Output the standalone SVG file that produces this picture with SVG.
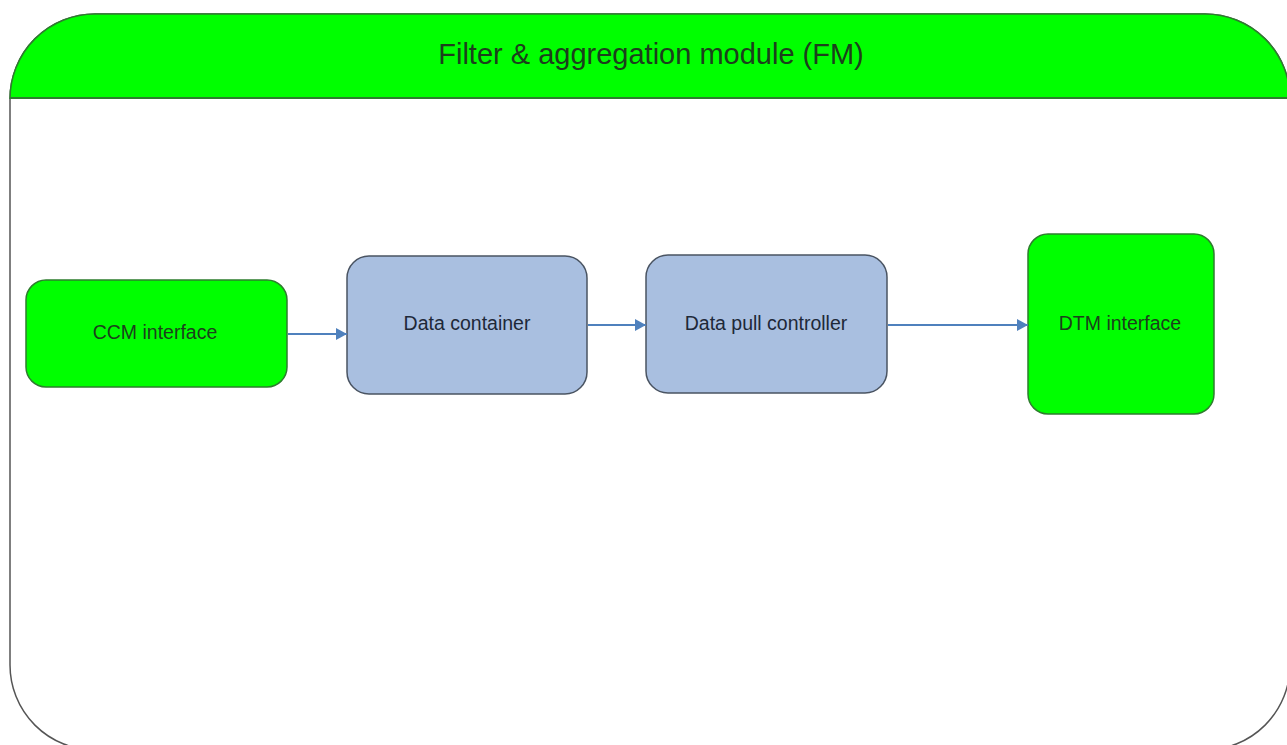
<svg xmlns="http://www.w3.org/2000/svg" width="1287" height="745" viewBox="0 0 1287 745">
<defs>
<style>
.green{fill:#00ff00;stroke:#2e7d2e;stroke-width:1.5}
.blue{fill:#a9bfe0;stroke:#4a5462;stroke-width:1.5}
.tg{font-family:"Liberation Sans",Arial,sans-serif;font-size:19.5px;fill:#1c3f1c;text-anchor:middle}
.tb{font-family:"Liberation Sans",Arial,sans-serif;font-size:19.5px;fill:#1e2838;text-anchor:middle}
.conn{stroke:#4f81bd;stroke-width:2;fill:none}
</style>
<marker id="arr" markerWidth="11" markerHeight="12" refX="11" refY="6" orient="auto" markerUnits="userSpaceOnUse">
<path d="M0,0 L11,6 L0,12 z" fill="#4f81bd"/>
</marker>
<clipPath id="outerclip"><rect x="10" y="14" width="1280" height="736" rx="85" ry="85"/></clipPath>
</defs>
<g id="module">
<rect x="10" y="14" width="1280" height="736" rx="85" ry="85" fill="#ffffff" stroke="#555555" stroke-width="1.5"/>
<rect x="0" y="0" width="1300" height="98" clip-path="url(#outerclip)" fill="#00ff00"/>
<path d="M10,98 L10,99 A85,85 0 0 1 95,14 L1205,14 A85,85 0 0 1 1290,99" fill="none" stroke="#2e7d2e" stroke-width="1.5"/>
<line x1="10" y1="98" x2="1290" y2="98" stroke="#2e7d2e" stroke-width="2"/>
<text x="651" y="64" font-family="'Liberation Sans',Arial,sans-serif" font-size="29" fill="#1c3f1c" text-anchor="middle">Filter &amp; aggregation module (FM)</text>
</g>
<g id="ccm">
<rect class="green" x="26" y="280" width="261" height="107" rx="20" ry="20"/>
<text class="tg" x="155" y="339">CCM interface</text>
</g>
<g id="container">
<rect class="blue" x="347" y="256" width="240" height="138" rx="22" ry="22"/>
<text class="tb" x="467" y="330">Data container</text>
</g>
<g id="pull">
<rect class="blue" x="646" y="255" width="241" height="138" rx="22" ry="22"/>
<text class="tb" x="766" y="330">Data pull controller</text>
</g>
<g id="dtm">
<rect class="green" x="1028" y="234" width="186" height="180" rx="20" ry="20"/>
<text class="tg" x="1120" y="330">DTM interface</text>
</g>
<g id="connectors">
<line class="conn" x1="288" y1="334" x2="347" y2="334" marker-end="url(#arr)"/>
<line class="conn" x1="588" y1="325" x2="646" y2="325" marker-end="url(#arr)"/>
<line class="conn" x1="888" y1="325" x2="1028" y2="325" marker-end="url(#arr)"/>
</g>
</svg>
